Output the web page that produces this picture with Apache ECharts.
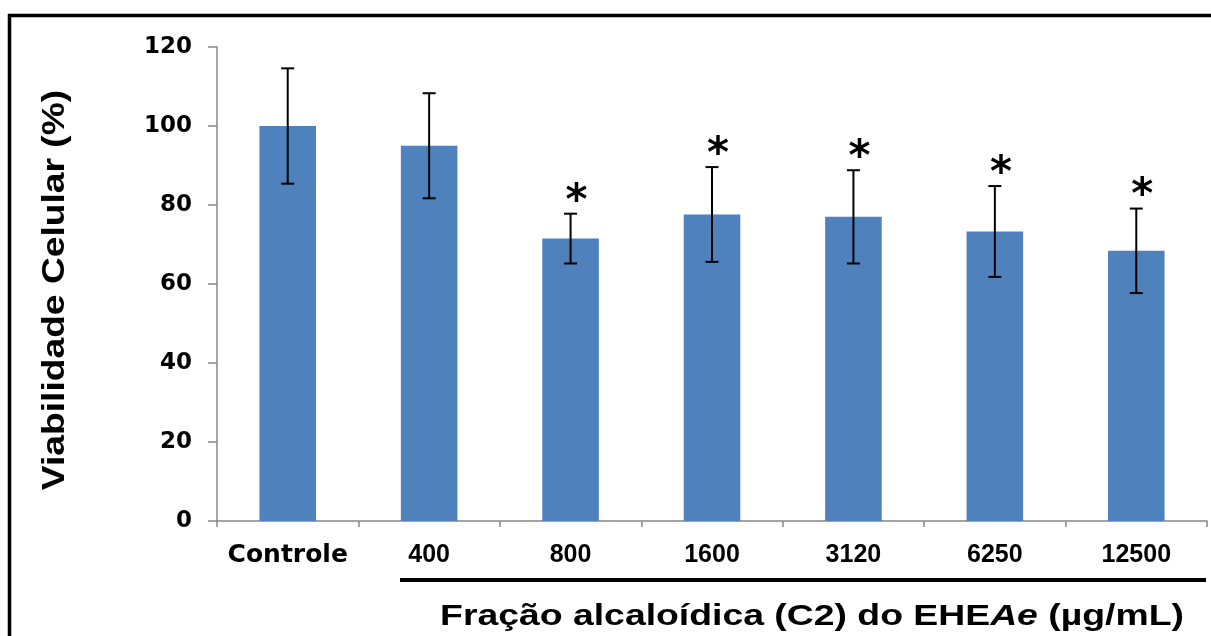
<!DOCTYPE html>
<html>
<head>
<meta charset="utf-8">
<script src="https://cdn.jsdelivr.net/npm/echarts@6/dist/echarts.min.js"></script>
<style>
  html, body { margin: 0; padding: 0; background: #ffffff; }
  #chart { width: 1211px; height: 636px; }
</style>
</head>
<body>
<div id="chart"></div>
<script>
// Cell viability (%) per concentration of the alkaloid fraction
const categories = ['Controle', '400', '800', '1600', '3120', '6250', '12500'];
const viability = [100, 95, 71.5, 77.6, 77, 73.3, 68.4];
const stdDev = [14.6, 13.3, 6.3, 12, 11.8, 11.5, 10.7];
const significant = [false, false, true, true, true, true, true];
const yTicks = [0, 20, 40, 60, 80, 100, 120];

const boldSans = '"Liberation Sans", Arial, sans-serif';
const wideSans = '"DejaVu Sans", Verdana, sans-serif';

const chart = echarts.init(document.getElementById('chart'), null, { renderer: 'canvas' });

const errorData = categories.map((c, i) => [i, viability[i], stdDev[i], significant[i] ? 1 : 0]);

chart.setOption({
  animation: false,
  backgroundColor: '#ffffff',
  grid: { left: 217, right: 4, top: 47, bottom: 115, containLabel: false },
  xAxis: {
    type: 'category',
    data: categories,
    boundaryGap: true,
    axisLine: { show: true, lineStyle: { color: '#878787', width: 1.5 } },
    axisTick: { show: true, alignWithLabel: false, length: 6, lineStyle: { color: '#878787', width: 1.5 } },
    axisLabel: {
      margin: 22,
      interval: 0,
      color: '#000',
      fontFamily: boldSans,
      fontWeight: 'bold',
      fontSize: 25,
      formatter: v => v === 'Controle' ? '{c|' + v + '}' : v,
      rich: {
        c: { fontFamily: wideSans, fontWeight: 'bold', fontSize: 25, color: '#000' }
      }
    },
    splitLine: { show: false }
  },
  yAxis: {
    type: 'value',
    min: yTicks[0],
    max: yTicks[yTicks.length - 1],
    interval: yTicks[1] - yTicks[0],
    axisLine: { show: true, lineStyle: { color: '#878787', width: 1.5 } },
    axisTick: { show: true, inside: false, length: 9, lineStyle: { color: '#878787', width: 1.5 } },
    axisLabel: {
      margin: 25,
      color: '#000',
      fontFamily: wideSans,
      fontWeight: 'bold',
      fontSize: 23
    },
    splitLine: { show: false }
  },
  series: [
    {
      type: 'bar',
      data: viability,
      barWidth: '40%',
      itemStyle: { color: '#4F81BD' },
      z: 2
    },
    {
      type: 'custom',
      data: errorData,
      encode: { x: 0, y: 1 },
      z: 3,
      renderItem: function (params, api) {
        const idx = api.value(0);
        const mean = api.value(1);
        const sd = api.value(2);
        const sig = api.value(3);
        const top = api.coord([idx, mean + sd]);
        const bot = api.coord([idx, mean - sd]);
        const x = top[0];
        const cap = 6.5;
        const ls = { stroke: '#000', lineWidth: 2 };
        const children = [
          { type: 'line', shape: { x1: x, y1: top[1], x2: x, y2: bot[1] }, style: ls },
          { type: 'line', shape: { x1: x - cap, y1: top[1], x2: x + cap, y2: top[1] }, style: ls },
          { type: 'line', shape: { x1: x - cap, y1: bot[1], x2: x + cap, y2: bot[1] }, style: ls }
        ];
        if (sig) {
          // significance mark above the error bar
          children.push({
            type: 'text',
            x: x + 6,
            y: top[1] - 11,
            style: {
              text: '*',
              fill: '#000',
              font: 'bold 42px ' + wideSans,
              align: 'center',
              verticalAlign: 'middle'
            }
          });
        }
        return { type: 'group', children: children };
      }
    }
  ],
  graphic: [
    // frame lines
    { type: 'line', shape: { x1: 8, y1: 15.5, x2: 1211, y2: 15.5 }, style: { stroke: '#000', lineWidth: 3.5 } },
    { type: 'line', shape: { x1: 9.5, y1: 14, x2: 9.5, y2: 636 }, style: { stroke: '#000', lineWidth: 3.5 } },
    // bracket under the concentration labels
    { type: 'line', shape: { x1: 400, y1: 580, x2: 1206, y2: 580 }, style: { stroke: '#000', lineWidth: 4 } },
    // y axis title
    {
      type: 'text',
      x: 55,
      y: 290,
      rotation: Math.PI / 2,
      scaleX: 1.2,
      style: {
        text: 'Viabilidade Celular (%)',
        fill: '#000',
        font: 'bold 31px ' + boldSans,
        align: 'center',
        verticalAlign: 'middle'
      }
    },
    // x axis title
    {
      type: 'text',
      x: 812,
      y: 617,
      scaleX: 1.245,
      style: {
        text: 'Fração alcaloídica (C2) do EHE{i|Ae} (µg/mL)',
        fill: '#000',
        font: 'bold 30px ' + boldSans,
        align: 'center',
        verticalAlign: 'middle',
        rich: {
          i: { fontFamily: boldSans, fontWeight: 'bold', fontStyle: 'italic', fontSize: 30, fill: '#000' }
        }
      }
    }
  ]
});
</script>
</body>
</html>
